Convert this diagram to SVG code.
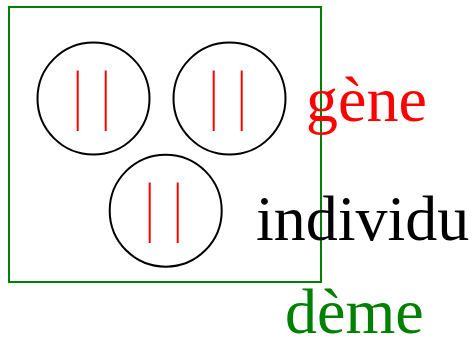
<svg xmlns="http://www.w3.org/2000/svg" width="473" height="345" viewBox="0 0 473 345">
<style>
.cell{fill:none;stroke:#000;stroke-width:2}
.gene{stroke:#f00;stroke-width:2}
.lbl{font-family:"Liberation Serif",serif;font-size:64px}
</style>
<g id="deme"><rect x="9" y="7" width="312" height="275" fill="none" stroke="#008000" stroke-width="2"/></g>
<g id="ind1"><circle class="cell" cx="93.5" cy="98.5" r="56"/><line class="gene" x1="77.7" y1="70.5" x2="77.7" y2="131"/><line class="gene" x1="105.7" y1="70.5" x2="105.7" y2="131"/></g>
<g id="ind2"><circle class="cell" cx="229.5" cy="98.5" r="56"/><line class="gene" x1="213.7" y1="70.5" x2="213.7" y2="131"/><line class="gene" x1="241.7" y1="70.5" x2="241.7" y2="131"/></g>
<g id="ind3"><circle class="cell" cx="165.7" cy="210.7" r="56"/><line class="gene" x1="149.7" y1="182.5" x2="149.7" y2="243"/><line class="gene" x1="177.7" y1="182.5" x2="177.7" y2="243"/></g>
<g id="connectors"></g>
<text class="lbl" x="306" y="121" fill="#f00">gène</text>
<text class="lbl" x="256" y="240" fill="#000">individu</text>
<text class="lbl" x="285" y="333" fill="#008000">dème</text>
</svg>
